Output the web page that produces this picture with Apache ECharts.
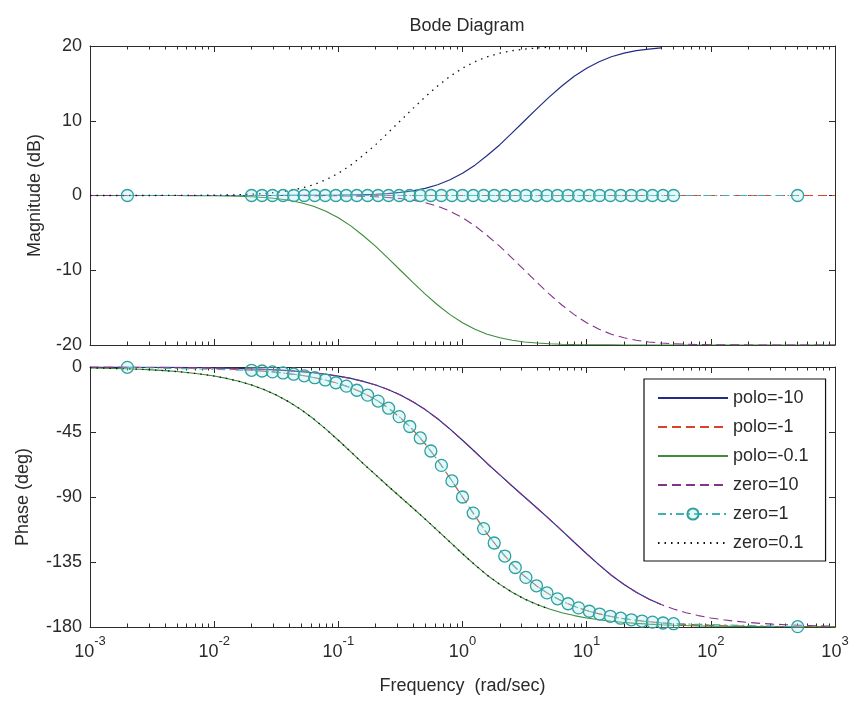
<!DOCTYPE html>
<html><head><meta charset="utf-8">
<script src="https://cdn.jsdelivr.net/npm/echarts@6/dist/echarts.min.js"></script>
<style>html,body{margin:0;padding:0;background:#fff}#c{width:853px;height:702px}</style>
</head><body><div id="c"></div>
<script>
// ---- data ----
const seriesNames = ['polo=-10', 'polo=-1', 'polo=-0.1', 'zero=10', 'zero=1', 'zero=0.1'];

// frequency grid of the line curves (rad/sec)
const freq = [0.001, 0.00126, 0.00158, 0.002, 0.00251, 0.00316, 0.00398, 0.00501, 0.00631, 0.00794,
  0.01, 0.0126, 0.0158, 0.02, 0.0251, 0.0316, 0.0398, 0.0501, 0.0631, 0.0794,
  0.1, 0.126, 0.158, 0.2, 0.251, 0.316, 0.398, 0.501, 0.631, 0.794,
  1, 1.26, 1.58, 2, 2.51, 3.16, 3.98, 5.01, 6.31, 7.94,
  10, 12.6, 15.8, 20, 25.1, 31.6, 39.8, 50.1, 63.1, 79.4,
  100, 126, 158, 200, 251, 316, 398, 501, 631, 794, 1000];

// magnitude (dB)
const magPolo10 = [0, 0, 0, 0, 0, 0, 0, 0, 0, 0,
  0, 0, 0, 0, 0, 0, 0.01, 0.01, 0.02, 0.03,
  0.04, 0.07, 0.11, 0.17, 0.26, 0.41, 0.63, 0.96, 1.44, 2.10,
  2.97, 4.06, 5.35, 6.80, 8.37, 10.00, 11.63, 13.20, 14.65, 15.94,
  17.03, 17.90, 18.56, 19.04, 19.37, 19.59, 19.74, null, null, null,
  null, null, null, null, null, null, null, null, null, null, null];
const magPolo1 = [0, 0, 0, 0, 0, 0, 0, 0, 0, 0,
  0, 0, 0, 0, 0, 0, 0, 0, 0, 0,
  0, 0, 0, 0, 0, 0, 0, 0, 0, 0,
  0, 0, 0, 0, 0, 0, 0, 0, 0, 0,
  0, 0, 0, 0, 0, 0, 0, 0, 0, 0,
  0, 0, 0, 0, 0, 0, 0, 0, 0, 0, 0];
const magPolo01 = [0, 0, 0, 0, 0, 0, -0.01, -0.01, -0.02, -0.03,
  -0.04, -0.07, -0.11, -0.17, -0.26, -0.41, -0.63, -0.96, -1.44, -2.10,
  -2.97, -4.06, -5.35, -6.80, -8.37, -10.00, -11.63, -13.20, -14.65, -15.94,
  -17.03, -17.90, -18.56, -19.04, -19.37, -19.59, -19.74, -19.83, -19.89, -19.93,
  -19.96, -19.97, -19.98, -19.99, -19.99, -20, -20, -20, -20, -20,
  -20, -20, -20, -20, -20, -20, -20, -20, -20, -20, -20];
const magZero10 = [0, 0, 0, 0, 0, 0, 0, 0, 0, 0,
  0, 0, 0, 0, 0, 0, -0.01, -0.01, -0.02, -0.03,
  -0.04, -0.07, -0.11, -0.17, -0.26, -0.41, -0.63, -0.96, -1.44, -2.10,
  -2.97, -4.06, -5.35, -6.80, -8.37, -10.00, -11.63, -13.20, -14.65, -15.94,
  -17.03, -17.90, -18.56, -19.04, -19.37, -19.59, -19.74, -19.83, -19.89, -19.93,
  -19.96, -19.97, -19.98, -19.99, -19.99, -20, -20, -20, -20, -20, -20];
const magZero01 = [0, 0, 0, 0, 0, 0, 0.01, 0.01, 0.02, 0.03,
  0.04, 0.07, 0.11, 0.17, 0.26, 0.41, 0.63, 0.96, 1.44, 2.10,
  2.97, 4.06, 5.35, 6.80, 8.37, 10.00, 11.63, 13.20, 14.65, 15.94,
  17.03, 17.90, 18.56, 19.04, 19.37, 19.59, 19.74, 19.83, null, null,
  null, null, null, null, null, null, null, null, null, null,
  null, null, null, null, null, null, null, null, null, null, null];

// phase (deg)
const phasePolo10 = [-0.06, -0.08, -0.10, -0.13, -0.16, -0.20, -0.25, -0.32, -0.40, -0.50,
  -0.63, -0.79, -1.00, -1.26, -1.58, -1.99, -2.51, -3.16, -3.97, -5.00,
  -6.28, -7.90, -9.91, -12.43, -15.54, -19.36, -24.00, -29.50, -35.86, -43.01,
  -50.71, -58.71, -66.76, -74.66, -82.39, -90.00, -97.61, -105.34, -113.24, -121.29,
  -129.29, -136.99, -144.14, -150.50, -156.00, -160.64, -164.46, null, null, null,
  null, null, null, null, null, null, null, null, null, null, null];
const phasePolo1 = [-0.11, -0.14, -0.18, -0.23, -0.29, -0.36, -0.46, -0.57, -0.72, -0.91,
  -1.15, -1.44, -1.82, -2.29, -2.88, -3.62, -4.56, -5.74, -7.22, -9.08,
  -11.42, -14.35, -18.01, -22.57, -28.21, -35.10, -43.43, -53.26, -64.49, -76.95,
  -90.00, -103.05, -115.51, -126.74, -136.57, -144.90, -151.79, -157.43, -161.99, -165.65,
  -168.58, -170.92, -172.78, -174.26, -175.44, -176.38, -177.12, -177.71, -178.18, -178.56,
  -178.85, -179.09, -179.28, -179.43, -179.54, -179.64, -179.71, -179.77, -179.82, -179.86, -179.89];
const phasePolo01 = [-0.63, -0.79, -1.00, -1.26, -1.58, -1.99, -2.51, -3.16, -3.97, -5.00,
  -6.28, -7.90, -9.91, -12.43, -15.54, -19.36, -24.00, -29.50, -35.86, -43.01,
  -50.71, -58.71, -66.76, -74.66, -82.39, -90.00, -97.61, -105.34, -113.24, -121.29,
  -129.29, -136.99, -144.14, -150.50, -156.00, -160.64, -164.46, -167.57, -170.09, -172.10,
  -173.72, -175.00, -176.03, -176.84, -177.49, -178.01, -178.42, -178.74, -179.00, -179.21,
  -179.37, -179.50, -179.60, -179.68, -179.75, -179.80, -179.84, -179.87, -179.90, -179.92, -179.94];
const phaseZero10 = [-0.06, -0.08, -0.10, -0.13, -0.16, -0.20, -0.25, -0.32, -0.40, -0.50,
  -0.63, -0.79, -1.00, -1.26, -1.58, -1.99, -2.51, -3.16, -3.97, -5.00,
  -6.28, -7.90, -9.91, -12.43, -15.54, -19.36, -24.00, -29.50, -35.86, -43.01,
  -50.71, -58.71, -66.76, -74.66, -82.39, -90.00, -97.61, -105.34, -113.24, -121.29,
  -129.29, -136.99, -144.14, -150.50, -156.00, -160.64, -164.46, -167.57, -170.09, -172.10,
  -173.72, -175.00, -176.03, -176.84, -177.49, -178.01, -178.42, -178.74, -179.00, -179.21, -179.37];
const phaseZero01 = [-0.63, -0.79, -1.00, -1.26, -1.58, -1.99, -2.51, -3.16, -3.97, -5.00,
  -6.28, -7.90, -9.91, -12.43, -15.54, -19.36, -24.00, -29.50, -35.86, -43.01,
  -50.71, -58.71, -66.76, -74.66, -82.39, -90.00, -97.61, -105.34, -113.24, -121.29,
  -129.29, -136.99, -144.14, -150.50, -156.00, -160.64, -164.46, -167.57, null, null,
  null, null, null, null, null, null, null, null, null, null,
  null, null, null, null, null, null, null, null, null, null, null];

// zero=1 : marker points
const freqZero1 = [0.002, 0.0200, 0.0243, 0.0295, 0.0359, 0.0437, 0.0531, 0.0646, 0.0785, 0.0955,
  0.116, 0.141, 0.172, 0.209, 0.254, 0.309, 0.376, 0.457, 0.556, 0.676, 0.822,
  1.00, 1.22, 1.48, 1.80, 2.19, 2.66, 3.24, 3.94, 4.79, 5.82, 7.08,
  8.61, 10.5, 12.7, 15.5, 18.8, 22.9, 27.9, 33.9, 41.2, 50.1, 500];
const magZero1 = [0, 0, 0, 0, 0, 0, 0, 0, 0, 0,
  0, 0, 0, 0, 0, 0, 0, 0, 0, 0, 0,
  0, 0, 0, 0, 0, 0, 0, 0, 0, 0, 0,
  0, 0, 0, 0, 0, 0, 0, 0, 0, 0, 0];
const phaseZero1 = [-0.23, -2.29, -2.78, -3.38, -4.11, -5.00, -6.08, -7.39, -8.98, -10.91,
  -13.23, -16.08, -19.50, -23.60, -28.52, -34.34, -41.20, -49.13, -58.14, -68.12, -78.86,
  -90.00, -101.14, -111.88, -121.86, -130.87, -138.80, -145.66, -151.48, -156.40, -160.50, -163.92,
  -166.77, -169.09, -171.02, -172.61, -173.92, -175.00, -175.89, -176.62, -177.22, -177.71, -179.77];

// axis ticks
const decades = [0.001, 0.01, 0.1, 1, 10, 100];
const mantissas = [2, 3, 4, 5, 6, 7, 8, 9];
const magTicks = [-20, -10, 0, 10, 20];
const phaseTicks = [-180, -135, -90, -45, 0];

// ---- chart ----
const FONT = '"Liberation Sans", Arial, Helvetica, sans-serif';
const TXT = '#2a2a2a';
const AX = '#2b2b2b';
const minorTicks = [];
decades.forEach(d => mantissas.forEach(m => minorTicks.push(+(m * d).toPrecision(3))));

function logX(gridIndex, position, extra) {
  return Object.assign({
    type: 'log', logBase: 10, min: 0.001, max: 1000, splitNumber: 6,
    gridIndex: gridIndex, position: position,
    axisLine: { show: true, onZero: false, lineStyle: { color: AX, width: 1 } },
    axisTick: { show: true, inside: true, length: 6, lineStyle: { color: AX, width: 1 } },
    axisLabel: { show: false },
    splitLine: { show: false }
  }, extra || {});
}
function minorX(gridIndex, position) {
  return logX(gridIndex, position, {
    axisLine: { show: false, onZero: false },
    axisTick: { show: true, inside: true, length: 3.5, customValues: minorTicks, lineStyle: { color: AX, width: 1 } }
  });
}
function valY(gridIndex, position, ticks, extra) {
  return Object.assign({
    type: 'value', gridIndex: gridIndex, position: position,
    min: ticks[0], max: ticks[ticks.length - 1], interval: ticks[1] - ticks[0],
    axisLine: { show: true, onZero: false, lineStyle: { color: AX, width: 1 } },
    axisTick: { show: true, inside: true, length: 6, lineStyle: { color: AX, width: 1 } },
    axisLabel: { show: false },
    splitLine: { show: false }
  }, extra || {});
}
const yLabel = { show: true, margin: 8, fontSize: 18, fontFamily: FONT, color: TXT };
const yName = { fontSize: 18, fontFamily: FONT, color: TXT };

const xAxes = [
  logX(0, 'bottom'), logX(0, 'top'), minorX(0, 'bottom'), minorX(0, 'top'),
  logX(1, 'bottom', {
    name: 'Frequency  (rad/sec)', nameLocation: 'middle', nameGap: 50,
    nameTextStyle: { fontSize: 18, fontFamily: FONT, color: TXT },
    axisLabel: {
      show: true, margin: 8, showMinLabel: true, showMaxLabel: true,
      formatter: v => '{b|10}{s|' + Math.round(Math.log10(v)) + '}',
      rich: {
        b: { fontSize: 18, fontFamily: FONT, color: TXT, lineHeight: 26, verticalAlign: 'bottom' },
        s: { fontSize: 13, fontFamily: FONT, color: TXT, lineHeight: 26, verticalAlign: 'top' }
      }
    }
  }),
  logX(1, 'top'), minorX(1, 'bottom'), minorX(1, 'top')
];
const yAxes = [
  valY(0, 'left', magTicks, { axisLabel: yLabel, name: 'Magnitude (dB)', nameLocation: 'middle', nameGap: 46, nameTextStyle: yName }),
  valY(0, 'right', magTicks),
  valY(1, 'left', phaseTicks, { axisLabel: yLabel, name: 'Phase (deg)', nameLocation: 'middle', nameGap: 58, nameTextStyle: yName }),
  valY(1, 'right', phaseTicks)
];

const styles = {
  'polo=-10': { color: '#232c86', type: 'solid', width: 1.2 },
  'polo=-1': { color: '#d8432c', type: [9, 5], width: 1.1 },
  'polo=-0.1': { color: '#3b8c3b', type: 'solid', width: 1.1 },
  'zero=10': { color: '#85338a', type: [9, 5], width: 1.1 },
  'zero=1': { color: '#3cb2b2', type: [8, 4, 2, 4], width: 1.1 },
  'zero=0.1': { color: '#111111', type: [1.5, 5], width: 1.3 }
};

function line(name, xi, yi, xs, ys, markers) {
  const s = {
    type: 'line', name: name, xAxisIndex: xi, yAxisIndex: yi,
    data: xs.map((x, i) => [x, ys[i]]),
    lineStyle: styles[name],
    itemStyle: { color: styles[name].color },
    symbol: 'none', animation: false, connectNulls: false,
    emphasis: { disabled: true }
  };
  if (markers) {
    s.symbol = 'circle';
    s.symbolSize = 12;
    s.showSymbol = true;
    s.showAllSymbol = true;
    s.itemStyle = { color: 'rgba(165,235,235,0.3)', borderColor: '#2f9f9f', borderWidth: 1.3 };
  }
  return s;
}

const series = [
  line('polo=-10', 0, 0, freq, magPolo10),
  line('polo=-1', 0, 0, freq, magPolo1),
  line('polo=-0.1', 0, 0, freq, magPolo01),
  line('zero=10', 0, 0, freq, magZero10),
  line('zero=1', 0, 0, freqZero1, magZero1, true),
  line('zero=0.1', 0, 0, freq, magZero01),
  line('polo=-10', 4, 2, freq, phasePolo10),
  line('polo=-1', 4, 2, freq, phasePolo1),
  line('polo=-0.1', 4, 2, freq, phasePolo01),
  line('zero=10', 4, 2, freq, phaseZero10),
  line('zero=1', 4, 2, freqZero1, phaseZero1, true),
  line('zero=0.1', 4, 2, freq, phaseZero01)
];

const legendData = seriesNames.map(n => n === 'zero=1'
  ? { name: n }
  : { name: n, itemStyle: { color: 'rgba(0,0,0,0)', borderWidth: 0, opacity: 0 } });

const chart = echarts.init(document.getElementById('c'), null, { renderer: 'canvas' });
chart.setOption({
  backgroundColor: '#ffffff',
  animation: false,
  textStyle: { fontFamily: FONT },
  title: {
    text: 'Bode Diagram', left: 462, top: 12, textAlign: 'center',
    textStyle: { fontSize: 18, fontWeight: 'normal', fontFamily: FONT, color: TXT }
  },
  grid: [
    { left: 90, top: 46, width: 745, height: 299, containLabel: false },
    { left: 90, top: 367, width: 745, height: 260, containLabel: false }
  ],
  legend: {
    data: legendData, orient: 'vertical', left: 644, top: 379,
    itemWidth: 70, itemHeight: 14, itemGap: 11,
    padding: [10, 17, 9, 13],
    borderColor: '#111', borderWidth: 1.2, backgroundColor: '#ffffff',
    selectedMode: false,
    textStyle: { fontSize: 18, fontFamily: FONT, color: TXT },
    z: 10
  },
  xAxis: xAxes,
  yAxis: yAxes,
  series: series
});
</script>
</body></html>
